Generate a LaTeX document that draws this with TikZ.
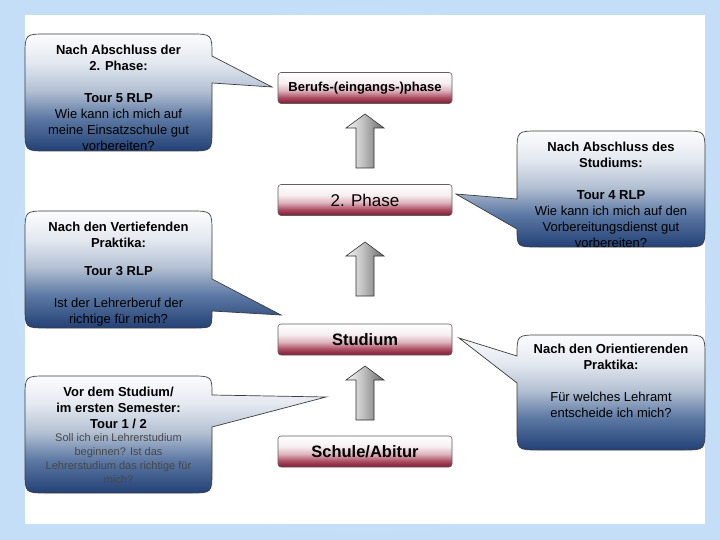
\documentclass[tikz,border=0pt]{standalone}
\usepackage{fontspec}
\setmainfont{Liberation Sans}
\definecolor{bgin}{RGB}{236,244,253}
\definecolor{bgout}{RGB}{196,222,248}
\definecolor{bubA}{RGB}{35,65,118}
\definecolor{bubB}{RGB}{92,120,163}
\definecolor{bubC}{RGB}{180,193,211}
\definecolor{bubD}{RGB}{228,233,240}
\definecolor{bubE}{RGB}{252,252,253}
\definecolor{bubline}{RGB}{60,60,60}
\definecolor{boxA}{RGB}{130,22,48}
\definecolor{boxB}{RGB}{172,80,100}
\definecolor{boxC}{RGB}{222,180,190}
\definecolor{boxD}{RGB}{246,238,240}
\definecolor{boxline}{RGB}{95,95,95}
\definecolor{arrL}{RGB}{248,248,248}
\definecolor{arrM}{RGB}{190,190,190}
\definecolor{arrR}{RGB}{105,105,105}
\definecolor{arrline}{RGB}{50,50,50}
\pgfdeclareverticalshading{bubbleshade}{100bp}{color(0bp)=(bubA); color(25bp)=(bubA); color(39bp)=(bubB); color(51bp)=(bubC); color(63bp)=(bubD); color(75bp)=(bubE); color(100bp)=(bubE)}
\pgfdeclareverticalshading{boxshade}{100bp}{color(0bp)=(boxA); color(25bp)=(boxA); color(35bp)=(boxB); color(46bp)=(boxC); color(58bp)=(boxD); color(75bp)=(white); color(100bp)=(white)}
\pgfdeclarehorizontalshading{arrowshade}{100bp}{color(0bp)=(arrL); color(25bp)=(arrL); color(48bp)=(arrM); color(75bp)=(arrR); color(100bp)=(arrR)}
\tikzset{
  bubble/.style={draw=bubline, line width=0.7pt, shade, shading=bubbleshade},
  stagebox/.style={draw=boxline, line width=0.6pt, rounded corners=3pt, shade, shading=boxshade,
    minimum width=174pt, minimum height=31pt, inner sep=0pt},
  blockarrow/.style={draw=arrline, line width=0.6pt, shade, shading=arrowshade},
  btext/.style={align=center, inner sep=0pt, font=\fontsize{13}{16}\selectfont},
  smalltext/.style={align=center, inner sep=0pt, text=black!72, font=\fontsize{11}{14}\selectfont}
}
\newcommand{\uparrowblock}[2]{%
  \path[blockarrow] (#1,#2) -- (#1+19,#2+14) -- (#1+9,#2+14) -- (#1+9,#2+54)
    -- (#1-9,#2+54) -- (#1-9,#2+14) -- (#1-19,#2+14) -- cycle;}
\begin{document}
\begin{tikzpicture}[x=1pt,y=-1pt]
\useasboundingbox (0,0) rectangle (720,540);
% background
\shade[inner color=bgin, outer color=bgout] (0,0) rectangle (720,540);
\fill[white] (25,15) rectangle (705,524);

% stage boxes
\node[stagebox, font=\fontsize{13}{15}\selectfont\bfseries] (berufs) at (365,88) {Berufs-(eingangs-)phase};
\node[stagebox, font=\fontsize{17}{19}\selectfont] (phase) at (365,200) {2. Phase};
\node[stagebox, font=\fontsize{16.5}{19}\selectfont\bfseries] (studium) at (365,339.5) {Studium};
\node[stagebox, font=\fontsize{16.5}{19}\selectfont\bfseries] (schule) at (365,451.5) {Schule/Abitur};

% block arrows
\uparrowblock{365}{114}
\uparrowblock{365}{242}
\uparrowblock{365}{366}

% bubble 1 (top left)
\path[bubble] (45,34) -- (190,34) .. controls (212,34) .. (212,56) -- (272,87) -- (212,83)
  -- (212,129) .. controls (212,151) .. (190,151) -- (47,151) .. controls (25,151) .. (25,129)
  -- (25,56) .. controls (25,34) .. (47,34) -- cycle;
% bubble 2 (top right)
\path[bubble] (539,131) -- (683,131) .. controls (705,131) .. (705,153) -- (705,225)
  .. controls (705,247) .. (683,247) -- (539,247) .. controls (517,247) .. (517,229)
  -- (456,194) -- (517,199) -- (517,153) .. controls (517,131) .. (539,131) -- cycle;
% bubble 3 (middle left)
\path[bubble] (47,211) -- (190,211) .. controls (212,211) .. (212,233) -- (212,279) -- (281,315)
  -- (212,311) .. controls (212,328) .. (195,328) -- (47,328) .. controls (25,328) .. (25,306)
  -- (25,233) .. controls (25,211) .. (47,211) -- cycle;
% bubble 4 (bottom right)
\path[bubble] (539,335) -- (683,335) .. controls (705,335) .. (705,357) -- (705,428)
  .. controls (705,450) .. (683,450) -- (539,450) .. controls (517,450) .. (517,428)
  -- (517,383) -- (459,338) -- (517,356) .. controls (517,335) .. (539,335) -- cycle;
% bubble 5 (bottom left)
\path[bubble] (47,376) -- (190,376) .. controls (212,376) .. (212,395) -- (326,397) -- (212,427)
  -- (212,471) .. controls (212,493) .. (190,493) -- (47,493) .. controls (25,493) .. (25,471)
  -- (25,398) .. controls (25,376) .. (47,376) -- cycle;

% bubble texts
\node[btext] (t5) at (118.5,98) {\textbf{Nach Abschluss der}\\\textbf{2. Phase:}\\[16pt]\textbf{Tour 5 RLP}\\Wie kann ich mich auf\\meine Einsatzschule gut\\vorbereiten?};
\node[btext] (t4) at (611,194.5) {\textbf{Nach Abschluss des}\\\textbf{Studiums:}\\[16pt]\textbf{Tour 4 RLP}\\Wie kann ich mich auf den\\Vorbereitungsdienst gut\\vorbereiten?};
\node[btext] (t3) at (118.5,274) {\textbf{Nach den Vertiefenden}\\\textbf{Praktika:}\\[12.5pt]\textbf{Tour 3 RLP}\\[16pt]Ist der Lehrerberuf der\\richtige für mich?};
\node[btext] (t2) at (611,381) {\textbf{Nach den Orientierenden}\\\textbf{Praktika:}\\[16pt]Für welches Lehramt\\entscheide ich mich?};
\node[btext] (t1) at (118.5,408) {\textbf{Vor dem Studium/}\\\textbf{im ersten Semester:}\\\textbf{Tour 1 / 2}};
\node[smalltext] (t1b) at (118.5,459) {Soll ich ein Lehrerstudium\\beginnen? Ist das\\Lehrerstudium das richtige für\\mich?};
\end{tikzpicture}
\end{document}
